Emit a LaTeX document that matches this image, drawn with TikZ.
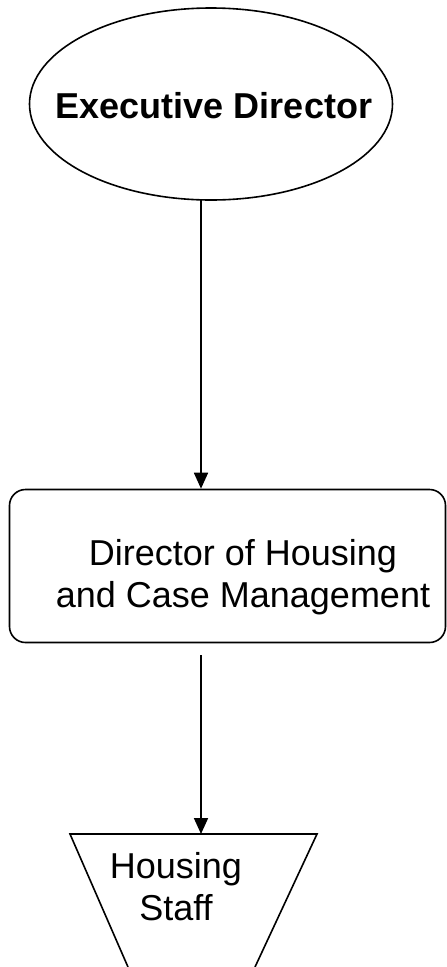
\documentclass[tikz,border=0pt]{standalone}
\usepackage{fontspec}
\setmainfont{Liberation Sans}
\usetikzlibrary{shapes.geometric,arrows.meta}
\begin{document}
\begin{tikzpicture}[x=1pt,y=1pt,
  shapeline/.style={draw=black,line width=1.6pt},
  conn/.style={draw=black,line width=1.8pt,-{Triangle[width=14pt,length=16pt]}},
  bigtext/.style={font=\fontsize{36}{42}\selectfont,align=center,inner sep=0pt}]
\useasboundingbox (0,0) rectangle (447,-967);
\fill[white] (0,0) rectangle (447,-967);
\node[shapeline,ellipse,minimum width=363pt,minimum height=192pt,inner sep=0pt] (exec) at (211,-104) {};
\node[bigtext,font=\fontsize{36}{42}\selectfont\bfseries,anchor=base] (exectxt) at (214,-118) {Executive Director};
\node[shapeline,rectangle,rounded corners=16pt,minimum width=436pt,minimum height=153pt,inner sep=0pt] (dir) at (227.5,-566) {};
\node[bigtext,anchor=base] (dirtxt) at (243,-607) {Director of Housing\\and Case Management};
\coordinate (trtl) at (70,-834);
\coordinate (trtr) at (317,-834);
\coordinate (trbl) at (128,-967);
\coordinate (trbr) at (255,-967);
\coordinate (trtop) at (201,-834);
\draw[shapeline,line join=miter] (trbl) -- (trtl) -- (trtr) -- (trbr);
\node[bigtext,anchor=base] (staff) at (176,-920) {Housing\\Staff};
\coordinate (a1s) at (201,-200);
\coordinate (a2s) at (201,-655);
\draw[conn] (a1s) -- (a1s |- dir.north);
\draw[conn] (a2s) -- (trtop);
\end{tikzpicture}
\end{document}
